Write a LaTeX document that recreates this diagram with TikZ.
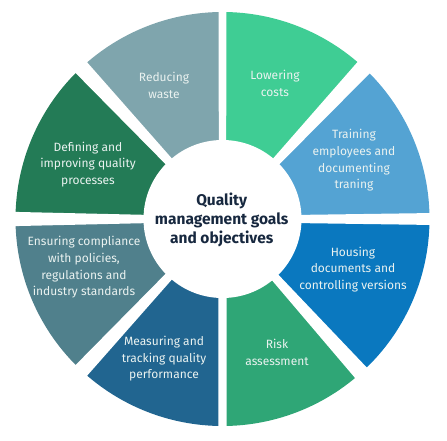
\documentclass[tikz,border=0pt]{standalone}
\usepackage{fontspec}
\setmainfont{Fira Sans}
\definecolor{cReduce}{HTML}{7FA5AD}
\definecolor{cLower}{HTML}{3FCD94}
\definecolor{cTrain}{HTML}{54A3D3}
\definecolor{cHouse}{HTML}{0A78BF}
\definecolor{cRisk}{HTML}{2FA676}
\definecolor{cMeasure}{HTML}{216590}
\definecolor{cEnsure}{HTML}{50808C}
\definecolor{cDefine}{HTML}{237B56}
\definecolor{segtext}{HTML}{EAF2F0}
\definecolor{navy}{HTML}{17283F}
\begin{document}
\begin{tikzpicture}[x=1pt,y=1pt,
  seglabel/.style={text=segtext, align=center, font=\fontsize{12}{16.7}\selectfont, inner sep=0pt},
  centerlabel/.style={text=navy, align=center, font=\bfseries\fontsize{15.5}{19}\selectfont, inner sep=0pt},
  gapfill/.style={fill=white}]
\useasboundingbox (0,0) rectangle (447,-441);
\begin{scope}[shift={(222.5,-219)}]
  \fill[cReduce]  (0,0) -- (90:207) arc (90:133:207) -- cycle;
  \fill[cLower]   (0,0) -- (47:207) arc (47:90:207) -- cycle;
  \fill[cTrain]   (0,0) -- (0:207) arc (0:47:207) -- cycle;
  \fill[cHouse]   (0,0) -- (-48:207) arc (-48:0:207) -- cycle;
  \fill[cRisk]    (0,0) -- (-90:207) arc (-90:-48:207) -- cycle;
  \fill[cMeasure] (0,0) -- (227:207) arc (227:270:207) -- cycle;
  \fill[cEnsure]  (0,0) -- (180:207) arc (180:227:207) -- cycle;
  \fill[cDefine]  (0,0) -- (133:207) arc (133:180:207) -- cycle;
  \foreach \ang/\hi/\ho in {90/3.7/3.9, 270/4/4.2, 0/4/6, 180/4/7.2, 47/4/8.5, 133/4/8, 227/4/8, 312/4/8}{
    \fill[gapfill, rotate=\ang] (70,-\hi) -- (212,-\ho) -- (212,\ho) -- (70,\hi) -- cycle;
  }
  \fill[white] (0,0) circle (79);
\end{scope}
\node[centerlabel] (center) at (221.7,-219.5) {Quality\\management goals\\and objectives};
\node[seglabel] (reduce) at (164,-85.7) {Reducing\\waste};
\node[seglabel] (lower) at (275,-83.7) {Lowering\\costs};
\node[seglabel] (train) at (354,-160.4) {Training\\employees and\\documenting\\traning};
\node[seglabel] (house) at (353,-269.3) {Housing\\documents and\\controlling versions};
\node[seglabel] (risk) at (277,-352.5) {Risk\\assessment};
\node[seglabel] (measure) at (164,-358.8) {Measuring and\\tracking quality\\performance};
\node[seglabel] (ensure) at (84,-267.5) {Ensuring compliance\\with policies,\\regulations and\\industry standards};
\node[seglabel] (define) at (88,-164.5) {Defining and\\improving quality\\processes};
\end{tikzpicture}
\end{document}
